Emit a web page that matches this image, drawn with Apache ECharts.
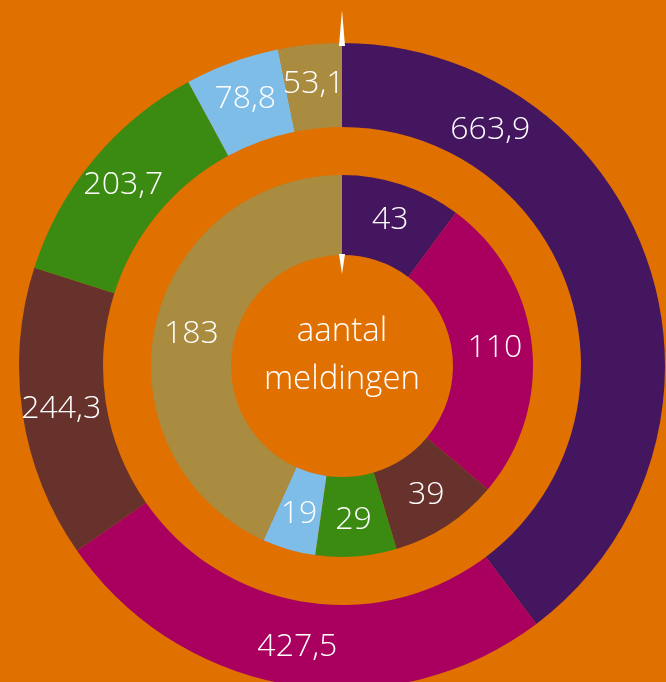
<!DOCTYPE html>
<html style="height: 100%">
<head>
<meta charset="utf-8">
<script src="https://cdn.jsdelivr.net/npm/echarts@6/dist/echarts.min.js"></script>
</head>
<body style="height: 100%; margin: 0; background: #e07000">
	<div id="container" style="width: 666px; height: 682px"></div>
	<script type="text/javascript">
		// categories (same colour order in both rings)
		var kleuren = ['#451660', '#a9005f', '#67322b', '#3b8a12', '#7dbde8', '#a98c40'];
		// outer ring values
		var buiten = [663.9, 427.5, 244.3, 203.7, 78.8, 53.1];
		// inner ring: aantal meldingen
		var binnen = [43, 110, 39, 29, 19, 183];

		var cx = 342, cy = 366;

		function maakData(arr) {
			var out = [];
			for (var i = 0; i < arr.length; i++) {
				out.push({ value: arr[i], itemStyle: { color: kleuren[i] } });
			}
			return out;
		}

		var buitenData = maakData(buiten);
		// designer put the first label higher up in the slice
		buitenData[0].label = { offset: [-121, -146] };

		var labelStijl = {
			show: true,
			position: 'inside',
			color: '#fff',
			fontFamily: 'Open Sans',
			fontWeight: 300,
			fontSize: 32,
			formatter: function (p) { return String(p.value).replace('.', ','); }
		};

		var dom = document.getElementById('container');
		var myChart = echarts.init(dom);
		var option = {
			backgroundColor: '#e07000',
			animation: false,
			graphic: [
				{ type: 'text', x: cx, y: cy - 34, style: { text: 'aantal', fill: '#fff', font: '300 33px "Open Sans"', textAlign: 'center', textVerticalAlign: 'middle' } },
				{ type: 'text', x: cx, y: cy + 14, style: { text: 'meldingen', fill: '#fff', font: '300 33px "Open Sans"', textAlign: 'center', textVerticalAlign: 'middle' } },
				{ type: 'polygon', z: 10, shape: { points: [[cx - 3, 46], [cx + 3, 46], [cx, 10]] }, style: { fill: '#fff' } },
				{ type: 'polygon', z: 10, shape: { points: [[cx - 3, cy - 112], [cx + 3, cy - 112], [cx, cy - 92]] }, style: { fill: '#fff' } }
			],
			series: [
				{
					type: 'pie',
					center: [cx, cy],
					radius: [239, 323],
					startAngle: 90,
					clockwise: true,
					silent: true,
					label: labelStijl,
					labelLine: { show: false },
					itemStyle: { borderWidth: 0 },
					data: buitenData
				},
				{
					type: 'pie',
					center: [cx, cy],
					radius: [111, 191],
					startAngle: 90,
					clockwise: true,
					silent: true,
					label: labelStijl,
					labelLine: { show: false },
					itemStyle: { borderWidth: 0 },
					data: maakData(binnen)
				}
			]
		};
		myChart.setOption(option, true);
	</script>
</body>
</html>
